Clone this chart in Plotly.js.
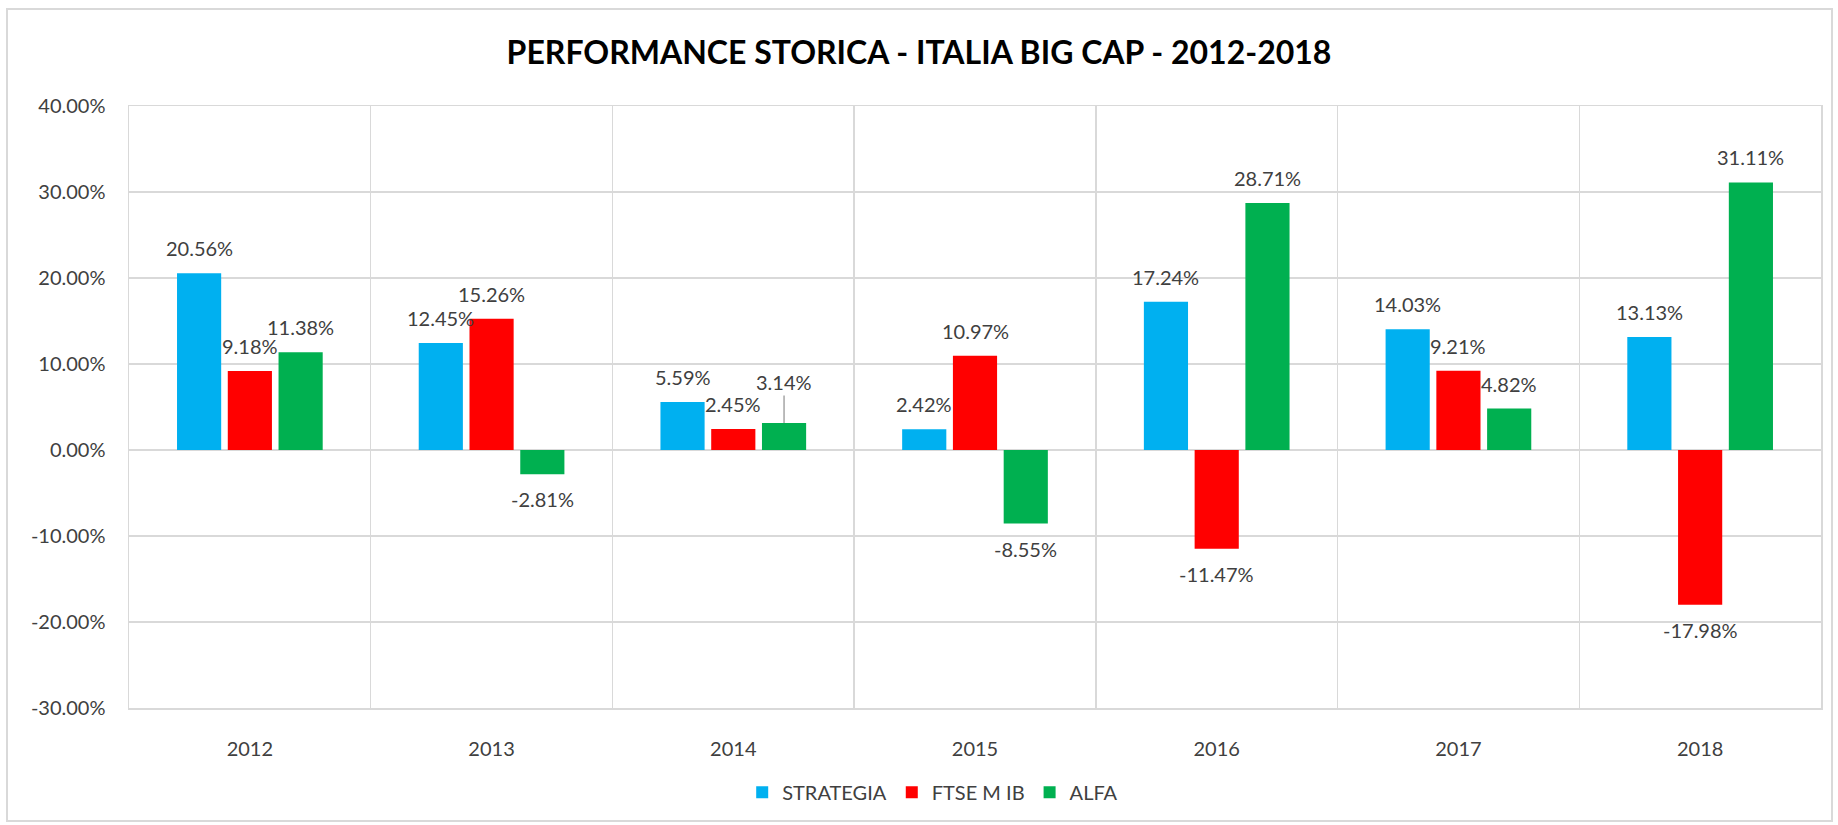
<!DOCTYPE html>
<html>
<head>
<meta charset="utf-8">
<script src="https://cdn.plot.ly/plotly-3.0.1.min.js"></script>
<style>
  html, body { margin: 0; padding: 0; background: #ffffff; }
  #wrap { position: relative; width: 1838px; height: 825px; }
  #chart { position: absolute; left: 0; top: 0; width: 1838px; height: 825px; }
  #frame { position: absolute; left: 6px; top: 8px; width: 1823px; height: 810px;
           border: 2px solid #d9d9d9; pointer-events: none; }
</style>
</head>
<body>
<div id="wrap">
  <div id="chart"></div>
  <div id="frame"></div>
</div>
<script>
// ---- data ----
const years = ['2012', '2013', '2014', '2015', '2016', '2017', '2018'];
const strategia = [20.56, 12.45, 5.59, 2.42, 17.24, 14.03, 13.13];
const ftseMib = [9.18, 15.26, 2.45, 10.97, -11.47, 9.21, -17.98];
const alfa = [11.38, -2.81, 3.14, -8.55, 28.71, 4.82, 31.11];
const seriesNames = ['STRATEGIA', 'FTSE M IB', 'ALFA'];
const yTicks = [-30, -20, -10, 0, 10, 20, 30, 40];

// ---- styling ----
const colors = ['#00B0F0', '#FF0000', '#00B050'];
const FONT = 'Lato, "Open Sans", sans-serif';
const TXT = '#404040';
const GRID = '#d9d9d9';
const bargap = 0.37;
const bargroupgap = 0.13;

const allSeries = [strategia, ftseMib, alfa];

const traces = allSeries.map((vals, s) => ({
  type: 'bar',
  name: seriesNames[s],
  x: years,
  y: vals,
  marker: { color: colors[s] },
  hoverinfo: 'skip'
}));

// data labels placed through the axis scales
const nS = allSeries.length;
const slot = (1 - bargap) / nS;
const annotations = [];
allSeries.forEach((vals, s) => {
  vals.forEach((v, i) => {
    const xpos = i + (s - (nS - 1) / 2) * slot;
    const label = v.toFixed(2) + '%';
    const isLeader = (s === 2 && years[i] === '2014');
    if (isLeader) {
      annotations.push({
        x: xpos, y: v, xref: 'x', yref: 'y',
        text: label, showarrow: true, arrowhead: 0, arrowwidth: 1.5,
        arrowcolor: '#a6a6a6', ax: 0, ay: -41, standoff: 0,
        font: { family: FONT, size: 20, color: TXT }
      });
    } else {
      annotations.push({
        x: xpos, y: v, xref: 'x', yref: 'y',
        text: label, showarrow: false,
        yshift: v >= 0 ? 25 : -25,
        font: { family: FONT, size: 20, color: TXT }
      });
    }
  });
});

const layout = {
  width: 1838,
  height: 825,
  paper_bgcolor: 'rgba(0,0,0,0)',
  plot_bgcolor: '#ffffff',
  margin: { l: 129, r: 17, t: 106, b: 117 },
  barmode: 'group',
  bargap: bargap,
  bargroupgap: bargroupgap,
  title: {
    text: '<b>PERFORMANCE STORICA - ITALIA BIG CAP - 2012-2018</b>',
    x: 0.5, xanchor: 'center',
    y: 0.936, yanchor: 'middle',
    font: { family: FONT, size: 32, color: '#000000' }
  },
  xaxis: {
    type: 'category',
    tickson: 'boundaries',
    showgrid: true,
    gridcolor: GRID,
    gridwidth: 1.5,
    showline: true,
    linecolor: GRID,
    linewidth: 1.5,
    mirror: true,
    ticks: '',
    ticklabelstandoff: 22,
    tickfont: { family: FONT, size: 20, color: TXT },
    fixedrange: true
  },
  yaxis: {
    range: [-30, 40],
    tickvals: yTicks,
    ticktext: yTicks.map(t => t.toFixed(2) + '%'),
    showgrid: true,
    gridcolor: GRID,
    gridwidth: 1.5,
    zeroline: true,
    zerolinecolor: GRID,
    zerolinewidth: 1.5,
    showline: true,
    linecolor: GRID,
    linewidth: 1.5,
    mirror: true,
    ticks: 'outside',
    ticklen: 18,
    tickcolor: 'rgba(0,0,0,0)',
    tickfont: { family: FONT, size: 20, color: TXT },
    fixedrange: true
  },
  showlegend: true,
  legend: {
    orientation: 'h',
    x: 0.475, xanchor: 'center',
    y: -0.14, yanchor: 'middle',
    font: { family: FONT, size: 20, color: TXT },
    itemwidth: 30,
    traceorder: 'normal'
  },
  annotations: annotations
};

Plotly.newPlot('chart', traces, layout, { displayModeBar: false, staticPlot: true });
</script>
</body>
</html>
